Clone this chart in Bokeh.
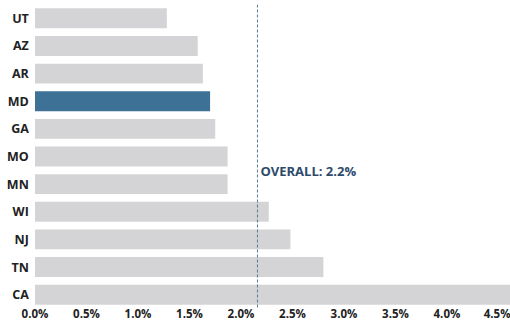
from bokeh.plotting import figure
from bokeh.models import ColumnDataSource, FactorRange, Range1d, FixedTicker, PrintfTickFormatter, Span
from bokeh.core.properties import value
from bokeh.embed import file_html
from bokeh.resources import INLINE

states = ["UT", "AZ", "AR", "MD", "GA", "MO", "MN", "WI", "NJ", "TN", "CA"]
rates = [1.28, 1.58, 1.63, 1.70, 1.75, 1.87, 1.87, 2.27, 2.48, 2.80, 4.70]
highlight = "MD"
overall = 2.16
overall_label = "OVERALL: 2.2%"
ticks = [0.0, 0.5, 1.0, 1.5, 2.0, 2.5, 3.0, 3.5, 4.0, 4.5]

GRAY = "#d4d4d6"
BLUE = "#3d7196"
colors = [BLUE if s == highlight else GRAY for s in states]

src = ColumnDataSource(dict(state=states, rate=rates, color=colors,
                            lx=[-0.06] * len(states)))

p = figure(width=510, height=323, output_backend="svg", toolbar_location=None,
           y_range=FactorRange(*reversed(states), range_padding=0),
           x_range=Range1d(-0.335, 4.617),
           min_border_left=0, min_border_right=0, min_border_top=4, min_border_bottom=0)
p.outline_line_color = None
p.xgrid.visible = False
p.ygrid.visible = False
p.yaxis.visible = False

p.hbar(y="state", right="rate", left=0, height=0.72, color="color", source=src, line_color=None)

p.text(x="lx", y="state", text="state", source=src, text_align="right", text_baseline="middle",
       text_font=value("Open Sans"), text_font_style="bold", text_font_size="12.5px", text_color="#222222")

p.add_layout(Span(location=overall, dimension="height", line_color="#5b7a8f", line_dash="3 2", line_width=1))

p.text(x=[overall], y=["MN"], text=[overall_label], x_offset=3, y_offset=-13,
       text_align="left", text_baseline="middle",
       text_font=value("Open Sans"), text_font_style="bold", text_font_size="13px", text_color="#2e4a6b")

ax = p.xaxis[0]
ax.ticker = FixedTicker(ticks=ticks)
ax.formatter = PrintfTickFormatter(format="%.1f%%")
ax.axis_line_color = None
ax.major_tick_line_color = None
ax.minor_tick_line_color = None
ax.major_tick_out = 0
ax.major_tick_in = 0
ax.major_label_standoff = -3
ax.major_label_text_font = "Open Sans"
ax.major_label_text_font_style = "bold"
ax.major_label_text_font_size = "11.5px"
ax.major_label_text_color = "#222222"

open("out.html", "w").write(file_html(p, INLINE))
